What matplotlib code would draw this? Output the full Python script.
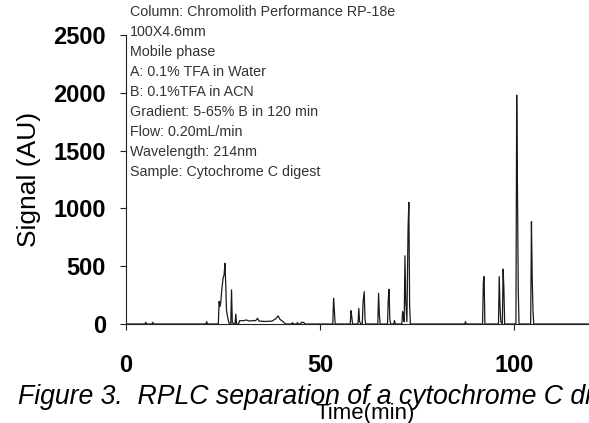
import matplotlib.pyplot as plt

plt.rcParams['font.family'] = ['Liberation Sans', 'DejaVu Sans']

# chromatogram trace (time in min, signal in AU)
time = [0.0,
        4.9, 5.1, 5.3, 6.7, 6.9, 7.1, 20.6, 20.8, 21.0,
        23.8, 24.0, 24.2, 24.4, 24.7, 25.0, 25.3, 25.5, 25.7, 25.9, 26.2, 26.5,
        27.0, 27.2, 27.4, 28.1, 28.3, 28.5,
        29.0, 29.3, 30.2, 31.0, 31.8, 32.6, 33.4, 33.9, 34.3, 36.0, 37.6, 38.6, 39.2, 39.7, 40.3, 40.8, 41.2,
        42.7, 42.9, 43.1, 44.0, 44.2, 44.4, 45.0, 45.2, 45.5, 45.8, 46.1,
        53.3, 53.5, 53.7, 53.9,
        57.8, 58.0, 58.2, 58.4,
        59.8, 60.0, 60.2, 60.6,
        60.9, 61.1, 61.4, 61.6, 61.8,
        64.9, 65.1, 65.3, 65.5,
        67.4, 67.6, 67.8, 68.0, 68.2,
        69.0, 69.2, 69.4,
        71.1, 71.3, 71.5, 71.7, 71.9, 72.1, 72.4, 72.7, 72.9, 73.1, 73.3,
        87.3, 87.5, 87.7,
        91.9, 92.1, 92.3, 92.5,
        96.0, 96.2, 96.4, 96.6, 97.0, 97.2, 97.4, 97.6,
        100.5, 100.7, 100.9, 101.1, 101.3,
        104.3, 104.5, 104.7, 104.9, 105.1,
        125.0]
signal = [0,
          0, 15, 0, 0, 15, 0, 0, 20, 0,
          0, 195, 150, 180, 300, 390, 430, 525, 350, 120, 60, 10,
          0, 295, 10, 0, 85, 0,
          0, 30, 28, 35, 25, 30, 28, 50, 25, 22, 25, 45, 70, 40, 25, 10, 0,
          0, 12, 0, 0, 12, 0, 0, 15, 12, 15, 0,
          0, 222, 120, 0,
          0, 115, 60, 0,
          0, 135, 20, 0,
          0, 190, 280, 40, 0,
          0, 265, 80, 0,
          0, 210, 300, 40, 0,
          0, 30, 0,
          0, 106, 60, 20, 590, 200, 20, 830, 1052, 165, 0,
          0, 20, 0,
          0, 360, 410, 0,
          0, 410, 150, 20, 0, 475, 300, 0,
          0, 1980, 1145, 295, 0,
          0, 885, 390, 112, 0,
          0]

xticks = [0, 50, 100]
yticks = [0, 500, 1000, 1500, 2000, 2500]

notes = ['Column: Chromolith Performance RP-18e',
         '100X4.6mm',
         'Mobile phase',
         'A: 0.1% TFA in Water',
         'B: 0.1%TFA in ACN',
         'Gradient: 5-65% B in 120 min',
         'Flow: 0.20mL/min',
         'Wavelength: 214nm',
         'Sample: Cytochrome C digest']

W, H = 589, 423
fig = plt.figure(figsize=(W / 100, H / 100), dpi=100)
# axes runs past the right edge of the picture, as in the cropped original
ax = fig.add_axes([126 / W, 99 / H, 478 / W, 289 / H])

ax.plot(time, signal, color='#1a1a1a', linewidth=0.9)

ax.set_xlim(0, 123.2)
ax.set_ylim(0, 2500)
ax.set_xticks(xticks)
ax.set_yticks(yticks)
for s in ['top', 'right']:
    ax.spines[s].set_visible(False)
for s in ['left', 'bottom']:
    ax.spines[s].set_linewidth(0.8)
    ax.spines[s].set_color('#222222')
ax.tick_params(axis='both', direction='out', length=4.5, width=0.8, color='#222222')
ax.tick_params(axis='x', pad=17, labelsize=17)
ax.tick_params(axis='y', pad=10, labelsize=17)
for lab in ax.get_xticklabels() + ax.get_yticklabels():
    lab.set_fontweight('bold')

ax.set_ylabel('Signal (AU)', fontsize=19, labelpad=9)
ax.set_xlabel('Time(min)', fontsize=16)
ax.xaxis.set_label_coords(0.5, -0.273)

for i, line in enumerate(notes):
    fig.text(130 / W, 1 - (12 + 20 * i) / H, line, fontsize=10.3, color='#333333',
             ha='left', va='center')

fig.text(18 / W, 19 / H, 'Figure 3.  RPLC separation of a cytochrome C digest',
         fontsize=19.2, style='italic', ha='left', va='baseline')

plt.savefig('out.png', dpi=100)
